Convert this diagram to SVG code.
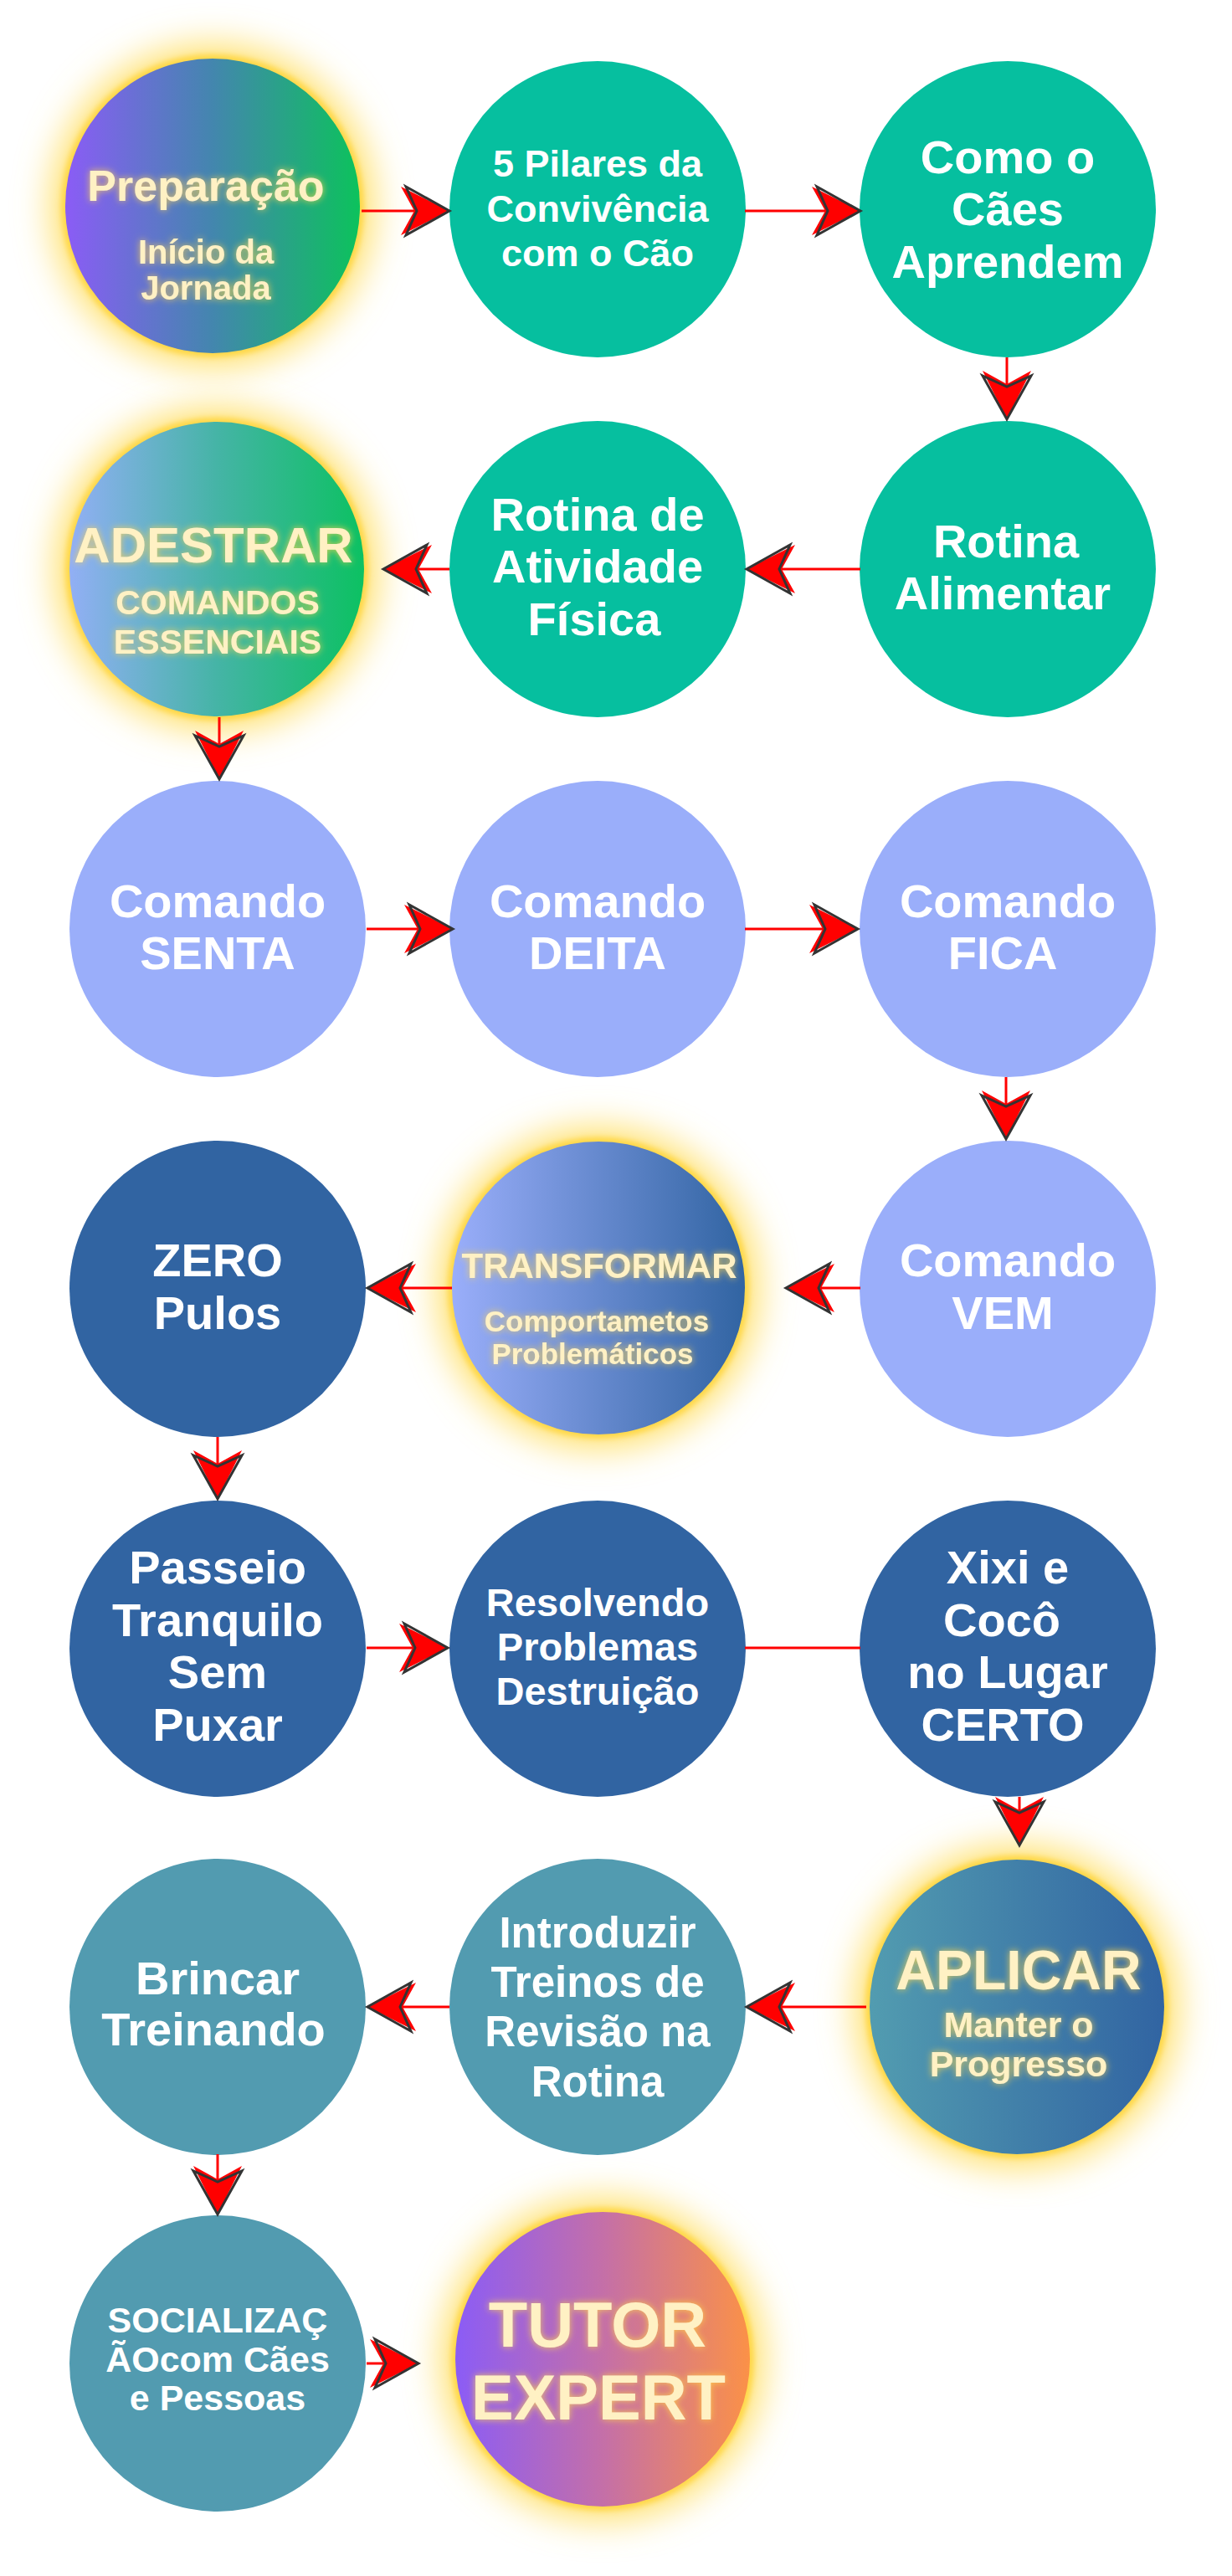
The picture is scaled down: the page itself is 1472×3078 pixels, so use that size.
<svg xmlns="http://www.w3.org/2000/svg" width="1472" height="3078" viewBox="0 0 1472 3078">
<style>
.t{font-family:"Liberation Sans",Arial,sans-serif;font-weight:700;fill:#ffffff;text-anchor:middle}
.g{fill:#FFF1C4;filter:url(#tglow)}
.c1{fill:#06BF9F}
.c2{fill:#9AAEFA}
.c3{fill:#3164A2}
.c4{fill:#529BB0}
.halo{fill:#FFDF66;filter:url(#halo)}
.rim{fill:#FFD84A;filter:url(#rim)}
.ln{fill:none;stroke:#FF0000;stroke-width:3}
.ar{marker-end:url(#arr)}
</style>
<defs>
<filter id="halo" x="-50%" y="-50%" width="200%" height="200%"><feGaussianBlur stdDeviation="22"/></filter>
<filter id="rim" x="-10%" y="-10%" width="120%" height="120%"><feGaussianBlur stdDeviation="3"/></filter>
<filter id="tglow" x="-20%" y="-50%" width="140%" height="200%">
<feGaussianBlur in="SourceAlpha" stdDeviation="4" result="b"/>
<feFlood flood-color="#FFD54A" flood-opacity="0.85"/>
<feComposite in2="b" operator="in" result="gl"/>
<feMerge><feMergeNode in="gl"/><feMergeNode in="SourceGraphic"/></feMerge>
</filter>
<linearGradient id="gPrep" x1="0" y1="0" x2="1" y2="0"><stop offset="0" stop-color="#8B5CF6"/><stop offset="0.5" stop-color="#4386AE"/><stop offset="1" stop-color="#0CC25C"/></linearGradient>
<linearGradient id="gAdes" x1="0" y1="0" x2="1" y2="0"><stop offset="0" stop-color="#92AFF5"/><stop offset="0.5" stop-color="#45B4A6"/><stop offset="1" stop-color="#0CC162"/></linearGradient>
<linearGradient id="gTrans" x1="0" y1="0" x2="1" y2="0"><stop offset="0" stop-color="#9AAEFA"/><stop offset="1" stop-color="#3164A2"/></linearGradient>
<linearGradient id="gApl" x1="0" y1="0" x2="1" y2="0"><stop offset="0" stop-color="#529CB0"/><stop offset="1" stop-color="#3164A2"/></linearGradient>
<linearGradient id="gTut" x1="0" y1="0" x2="1" y2="0"><stop offset="0" stop-color="#8B5CF6"/><stop offset="0.5" stop-color="#C46FA8"/><stop offset="1" stop-color="#FB9147"/></linearGradient>
<marker id="arr" markerUnits="userSpaceOnUse" viewBox="0 0 62 62" markerWidth="62" markerHeight="62" refX="40" refY="31" orient="auto" overflow="visible">
<path d="M2,2 L60,31 L2,60 L18,31 Z" fill="#FF0000"/>
<path d="M8,2 L60,31 L8,60 L21,31 Z" fill="none" stroke="#333333" stroke-width="3"/>
</marker>
</defs>
<rect width="1472" height="3078" fill="#ffffff"/>

<g id="n-preparacao">
<circle class="halo" cx="254" cy="246" r="192"/>
<circle class="rim" cx="254" cy="246" r="181"/>
<circle cx="254" cy="246" r="176" fill="url(#gPrep)"/>
<text class="t g" x="246" y="240" font-size="52">Preparação</text>
<text class="t g" x="246" y="315" font-size="40">Início da</text>
<text class="t g" x="246" y="358" font-size="40">Jornada</text>
</g>
<g id="n-pilares">
<circle class="c1" cx="714" cy="250" r="177"/>
<text class="t" x="714" y="211" font-size="45">5 Pilares da</text>
<text class="t" x="714" y="265" font-size="45">Convivência</text>
<text class="t" x="714" y="318" font-size="45">com o Cão</text>
</g>
<g id="n-como">
<circle class="c1" cx="1204" cy="250" r="177"/>
<text class="t" x="1204" y="207" font-size="56">Como o</text>
<text class="t" x="1204" y="269" font-size="56">Cães</text>
<text class="t" x="1204" y="332" font-size="56">Aprendem</text>
</g>
<g id="n-alimentar">
<circle class="c1" cx="1204" cy="680" r="177"/>
<text class="t" x="1202" y="666" font-size="56">Rotina</text>
<text class="t" x="1198" y="728" font-size="56">Alimentar</text>
</g>
<g id="n-atividade">
<circle class="c1" cx="714" cy="680" r="177"/>
<text class="t" x="714" y="634" font-size="56">Rotina de</text>
<text class="t" x="714" y="696" font-size="56">Atividade</text>
<text class="t" x="710" y="759" font-size="56">Física</text>
</g>
<g id="n-adestrar">
<circle class="halo" cx="259" cy="680" r="192"/>
<circle class="rim" cx="259" cy="680" r="181"/>
<circle cx="259" cy="680" r="176" fill="url(#gAdes)"/>
<text class="t g" x="255" y="672" font-size="60">ADESTRAR</text>
<text class="t g" x="260" y="734" font-size="41">COMANDOS</text>
<text class="t g" x="260" y="781" font-size="41">ESSENCIAIS</text>
</g>
<g id="n-senta">
<circle class="c2" cx="260" cy="1110" r="177"/>
<text class="t" x="260" y="1096" font-size="56">Comando</text>
<text class="t" x="260" y="1158" font-size="56">SENTA</text>
</g>
<g id="n-deita">
<circle class="c2" cx="714" cy="1110" r="177"/>
<text class="t" x="714" y="1096" font-size="56">Comando</text>
<text class="t" x="714" y="1158" font-size="56">DEITA</text>
</g>
<g id="n-fica">
<circle class="c2" cx="1204" cy="1110" r="177"/>
<text class="t" x="1204" y="1096" font-size="56">Comando</text>
<text class="t" x="1198" y="1158" font-size="56">FICA</text>
</g>
<g id="n-vem">
<circle class="c2" cx="1204" cy="1540" r="177"/>
<text class="t" x="1204" y="1525" font-size="56">Comando</text>
<text class="t" x="1198" y="1588" font-size="56">VEM</text>
</g>
<g id="n-transformar">
<circle class="halo" cx="715" cy="1539" r="191"/>
<circle class="rim" cx="715" cy="1539" r="180"/>
<circle cx="715" cy="1539" r="175" fill="url(#gTrans)"/>
<text class="t g" x="716" y="1527" font-size="42">TRANSFORMAR</text>
<text class="t g" x="713" y="1591" font-size="35">Comportametos</text>
<text class="t g" x="708" y="1630" font-size="35">Problemáticos</text>
</g>
<g id="n-zero">
<circle class="c3" cx="260" cy="1540" r="177"/>
<text class="t" x="260" y="1525" font-size="56">ZERO</text>
<text class="t" x="260" y="1588" font-size="56">Pulos</text>
</g>
<g id="n-passeio">
<circle class="c3" cx="260" cy="1970" r="177"/>
<text class="t" x="260" y="1892" font-size="56">Passeio</text>
<text class="t" x="260" y="1955" font-size="56">Tranquilo</text>
<text class="t" x="260" y="2017" font-size="56">Sem</text>
<text class="t" x="260" y="2080" font-size="56">Puxar</text>
</g>
<g id="n-resolvendo">
<circle class="c3" cx="714" cy="1970" r="177"/>
<text class="t" x="714" y="1931" font-size="47">Resolvendo</text>
<text class="t" x="714" y="1984" font-size="47">Problemas</text>
<text class="t" x="714" y="2037" font-size="47">Destruição</text>
</g>
<g id="n-xixi">
<circle class="c3" cx="1204" cy="1970" r="177"/>
<text class="t" x="1204" y="1892" font-size="56">Xixi e</text>
<text class="t" x="1197" y="1955" font-size="56">Cocô</text>
<text class="t" x="1204" y="2017" font-size="56">no Lugar</text>
<text class="t" x="1198" y="2080" font-size="56">CERTO</text>
</g>
<g id="n-aplicar">
<circle class="halo" cx="1215" cy="2398" r="192"/>
<circle class="rim" cx="1215" cy="2398" r="181"/>
<circle cx="1215" cy="2398" r="176" fill="url(#gApl)"/>
<text class="t g" x="1217" y="2377" font-size="66">APLICAR</text>
<text class="t g" x="1217" y="2434" font-size="43">Manter o</text>
<text class="t g" x="1217" y="2481" font-size="43">Progresso</text>
</g>
<g id="n-introduzir">
<circle class="c4" cx="714" cy="2398" r="177"/>
<text class="t" x="714" y="2327" font-size="51">Introduzir</text>
<text class="t" x="714" y="2386" font-size="51">Treinos de</text>
<text class="t" x="714" y="2445" font-size="51">Revisão na</text>
<text class="t" x="714" y="2505" font-size="51">Rotina</text>
</g>
<g id="n-brincar">
<circle class="c4" cx="260" cy="2398" r="177"/>
<text class="t" x="260" y="2383" font-size="56">Brincar</text>
<text class="t" x="255" y="2444" font-size="56">Treinando</text>
</g>
<g id="n-socializacao">
<circle class="c4" cx="260" cy="2824" r="177"/>
<text class="t" x="260" y="2787" font-size="43">SOCIALIZAÇ</text>
<text class="t" x="260" y="2834" font-size="43">ÃOcom Cães</text>
<text class="t" x="260" y="2880" font-size="43">e Pessoas</text>
</g>
<g id="n-tutor">
<circle class="halo" cx="720" cy="2819" r="192"/>
<circle class="rim" cx="720" cy="2819" r="181"/>
<circle cx="720" cy="2819" r="176" fill="url(#gTut)"/>
<text class="t g" x="714" y="2804" font-size="76">TUTOR</text>
<text class="t g" x="715" y="2891" font-size="76">EXPERT</text>
</g>

<g id="connectors">
<path class="ln ar" d="M432,252 H517"/>
<path class="ln ar" d="M890,252 H1008"/>
<path class="ln ar" d="M1203,427 V481"/>
<path class="ln ar" d="M1028,680 H912"/>
<path class="ln ar" d="M537,680 H478"/>
<path class="ln ar" d="M262,857 V911"/>
<path class="ln ar" d="M438,1110 H521"/>
<path class="ln ar" d="M890,1110 H1005"/>
<path class="ln ar" d="M1202,1287 V1341"/>
<path class="ln ar" d="M1028,1539 H959"/>
<path class="ln ar" d="M540,1539 H459"/>
<path class="ln ar" d="M260,1717 V1771"/>
<path class="ln ar" d="M438,1969 H515"/>
<path class="ln" d="M890,1969 H1028"/>
<path class="ln ar" d="M1218,2147 V2185"/>
<path class="ln ar" d="M1035,2398 H912"/>
<path class="ln ar" d="M537,2398 H459"/>
<path class="ln ar" d="M260,2574 V2626"/>
<path class="ln ar" d="M438,2824 H480"/>
</g>
</svg>
